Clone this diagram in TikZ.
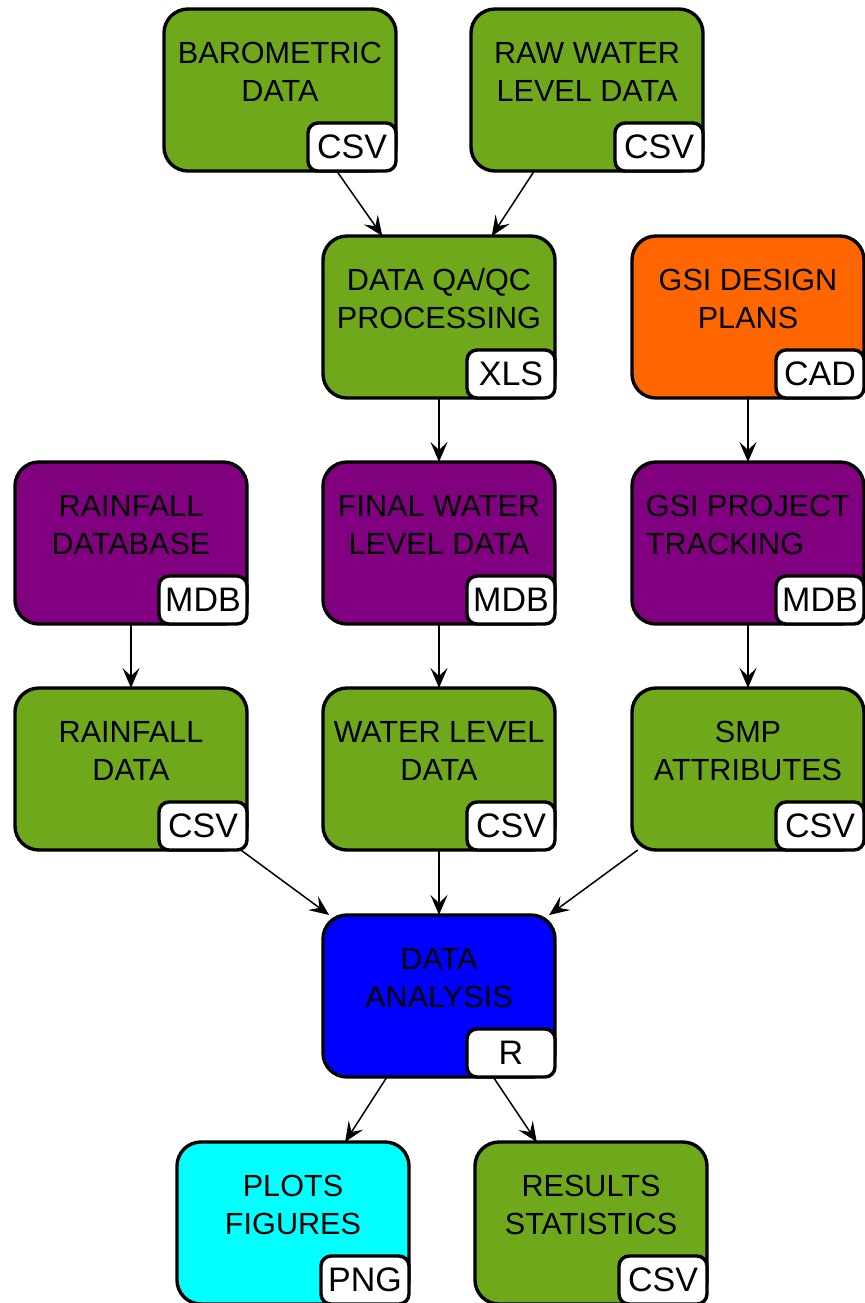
\documentclass[tikz,border=0pt]{standalone}
\usepackage{fontspec}
\setmainfont{Liberation Sans}
\usetikzlibrary{arrows.meta}
\definecolor{grn}{HTML}{6FA91B}
\definecolor{prp}{HTML}{800080}
\definecolor{org}{HTML}{FF6600}
\definecolor{blu}{HTML}{0000FF}
\definecolor{cyn}{HTML}{00FFFF}

\begin{document}
\begin{tikzpicture}[x=.5pt,y=-.5pt,
  box/.style={draw,line width=1.7pt,rounded corners=12pt,minimum width=116pt,minimum height=81pt,outer sep=0pt,inner sep=0pt},
  lbl/.style={font=\fontsize{15.3}{19}\selectfont,inner sep=0pt},
  tag/.style={draw,fill=white,line width=1.7pt,rounded corners=5pt,minimum width=44pt,minimum height=24pt,inner sep=0pt,outer sep=0pt,font=\fontsize{17}{20}\selectfont},
  flow/.style={line width=.75pt,-{Stealth[length=10pt,width=8.5pt,inset=4pt]}}]
\useasboundingbox (0,0) rectangle (864,1303);
% boxes: name/x/y/colour/align/text/format
\foreach \n/\x/\y/\c/\al/\t/\f in {
  bar/280/90/grn/center/{BAROMETRIC\\DATA}/CSV,
  raw/587/90/grn/center/{RAW WATER\\LEVEL DATA}/CSV,
  qc/439/317/grn/center/{DATA QA/QC\\PROCESSING}/XLS,
  gsi/748/317/org/center/{GSI DESIGN\\PLANS}/CAD,
  rdb/131/543/prp/center/{RAINFALL\\DATABASE}/MDB,
  fin/439/543/prp/center/{FINAL WATER\\LEVEL DATA}/MDB,
  trk/748/543/prp/left/{GSI PROJECT\\TRACKING}/MDB,
  rain/131/769/grn/center/{RAINFALL\\DATA}/CSV,
  wl/439/769/grn/center/{WATER LEVEL\\DATA}/CSV,
  smp/748/769/grn/center/{SMP\\ATTRIBUTES}/CSV,
  ana/439/996/blu/center/{DATA\\ANALYSIS}/R,
  plt/293/1223/cyn/center/{PLOTS\\FIGURES}/PNG,
  res/591/1223/grn/center/{RESULTS\\STATISTICS}/CSV}{
  \node[box,fill=\c] (\n) at (\x,\y) {};
  \node[lbl,align=\al] (\n-t) at ([yshift=9pt]\n.center) {\t};
  \node[tag,anchor=south east] (\n-f) at (\n.south east) {\f};
}
\foreach \a/\b in {bar/qc,raw/qc,qc/fin,gsi/trk,rdb/rain,fin/wl,trk/smp,rain/ana,wl/ana,smp/ana,ana/plt,ana/res}
  \draw[flow] (\a) -- (\b);
\end{tikzpicture}
\end{document}
